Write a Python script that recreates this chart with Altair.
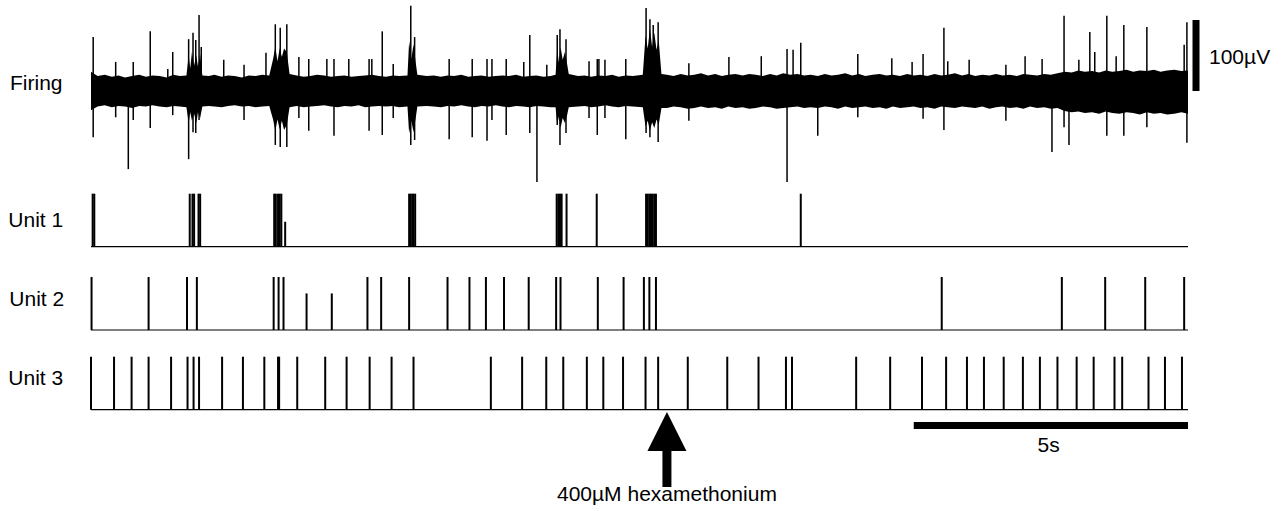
import altair as alt
import pandas as pd

# ---------------- data ----------------
# time axis in seconds (0..20 s)
# Firing trace: noise envelope (µV, upper / lower magnitude)
ENV_T = [0.00, 0.12, 0.25, 0.38, 0.50, 0.62, 0.75, 0.88, 1.00, 1.12, 1.25, 1.38, 1.50, 1.62,
         1.74, 1.78, 1.81, 1.84, 1.88, 1.92, 1.95, 1.99, 2.03,
         2.15, 2.25, 2.38, 2.50, 2.62, 2.75, 2.88, 3.00, 3.12, 3.25,
         3.32, 3.36, 3.40, 3.44, 3.48, 3.52, 3.57, 3.62,
         3.75, 3.88, 4.00, 4.12, 4.25, 4.38, 4.50, 4.62, 4.75, 4.88, 5.00, 5.12, 5.25,
         5.38, 5.50, 5.62, 5.77, 5.80, 5.84, 5.88, 5.92, 5.95,
         6.12, 6.25, 6.38, 6.50, 6.62, 6.75, 6.88, 7.00, 7.12, 7.25, 7.38, 7.50, 7.62,
         7.75, 7.88, 8.00, 8.12, 8.25, 8.38, 8.47,
         8.50, 8.53, 8.56, 8.60, 8.64, 8.68, 8.71,
         8.88, 9.00, 9.12, 9.25, 9.38, 9.50, 9.62, 9.75, 9.88, 10.06,
         10.11, 10.15, 10.19, 10.23, 10.27, 10.31, 10.35, 10.40,
         10.50, 10.62, 10.75, 10.88, 11.00, 11.12, 11.25, 11.38, 11.50, 11.62, 11.75,
         11.88, 12.00, 12.12, 12.25, 12.38, 12.50, 12.62, 12.75, 12.88, 13.00, 13.12,
         13.25, 13.38, 13.50, 13.62, 13.75, 13.88, 14.00, 14.12, 14.25, 14.38, 14.50,
         14.62, 14.75, 14.88, 15.00, 15.12, 15.25, 15.38, 15.50, 15.62, 15.75, 15.88,
         16.00, 16.12, 16.25, 16.38, 16.50, 16.62, 16.75, 16.88, 17.00, 17.12, 17.25,
         17.38, 17.50, 17.62, 17.75, 17.88, 18.00, 18.12, 18.25, 18.38, 18.50, 18.62,
         18.75, 18.88, 19.00, 19.12, 19.25, 19.38, 19.50, 19.62, 19.75, 19.88, 20.00]
ENV_UP = [27, 21, 23, 20, 22, 19, 21, 23, 20, 22, 21, 19, 23, 21,
          22, 50, 32, 55, 36, 50, 34, 52, 22,
          21, 23, 20, 22, 21, 19, 22, 21, 23, 22,
          45, 62, 42, 60, 48, 60, 55, 24,
          22, 20, 21, 23, 22, 20, 21, 22, 20, 21, 22, 23, 21,
          20, 22, 21, 22, 70, 45, 66, 40, 23,
          21, 22, 20, 22, 21, 23, 20, 21, 22, 20, 21, 22, 21,
          23, 20, 21, 22, 20, 21, 23,
          58, 40, 62, 44, 55, 38, 24,
          21, 22, 20, 22, 21, 23, 20, 22, 21, 23,
          78, 60, 88, 62, 82, 58, 72, 24,
          23, 21, 24, 22, 23, 25, 22, 24, 21, 23, 24,
          22, 24, 23, 21, 24, 22, 25, 23, 24, 22, 23,
          21, 24, 22, 23, 25, 22, 24, 21, 23, 24, 22,
          23, 21, 24, 22, 23, 21, 24, 22, 23, 25, 22,
          24, 21, 23, 22, 24, 22, 23, 21, 24, 23, 22,
          24, 23, 25, 27, 26, 29, 27, 28, 26, 29, 27,
          28, 30, 27, 29, 28, 30, 27, 29, 30, 28, 29]
ENV_DOWN = [27, 22, 20, 23, 21, 22, 24, 21, 22, 20, 22, 23, 21, 22,
            23, 45, 30, 42, 32, 45, 30, 38, 22,
            21, 22, 23, 21, 20, 22, 21, 23, 22, 21,
            40, 56, 40, 54, 42, 55, 48, 23,
            21, 23, 22, 21, 20, 22, 23, 21, 22, 20, 23, 22, 21,
            22, 21, 23, 22, 60, 42, 58, 38, 22,
            21, 22, 23, 21, 22, 20, 22, 23, 21, 22, 20, 22, 23,
            21, 22, 23, 21, 22, 23, 23,
            48, 36, 52, 38, 45, 34, 23,
            22, 21, 23, 22, 20, 22, 23, 21, 22, 23,
            50, 42, 56, 44, 52, 40, 48, 24,
            24, 22, 23, 25, 24, 22, 24, 23, 25, 22, 24,
            23, 25, 24, 22, 23, 25, 24, 23, 22, 24, 23,
            24, 22, 23, 25, 22, 24, 23, 22, 24, 23, 25,
            22, 24, 23, 22, 24, 23, 25, 22, 23, 24, 22,
            23, 24, 22, 25, 23, 22, 24, 23, 25, 22, 24,
            23, 25, 24, 28, 30, 29, 31, 30, 32, 29, 31,
            32, 30, 31, 33, 30, 32, 31, 33, 32, 30, 32]

# Firing trace: individual spikes (time s, upward µV, downward µV)
SPIKE_T = [0.04, 0.45, 0.68, 0.77, 1.08, 1.40, 1.49, 1.78, 1.86, 1.91, 1.97, 2.01, 2.42,
           2.79, 3.19, 3.36, 3.45, 3.57, 3.79, 3.97, 4.30, 4.43, 4.70, 5.07, 5.12, 5.31,
           5.51, 5.83, 5.90, 6.53, 6.95, 7.22, 7.31, 7.57, 7.89, 8.00, 8.13, 8.31, 8.50,
           8.55, 8.66, 9.08, 9.23, 9.26, 9.37, 9.75, 10.12, 10.19, 10.25, 10.34, 10.90,
           11.63, 12.22, 12.69, 12.80, 12.94, 13.25, 13.98, 14.60, 14.97, 15.17, 15.55,
           15.62, 16.01, 16.68, 17.03, 17.34, 17.52, 17.74, 17.83, 18.01, 18.21, 18.30,
           18.52, 18.69, 18.83, 19.25, 19.93, 19.98]
SPIKE_UP = [76, 41, 15, 41, 84, 31, 55, 73, 82, 72, 107, 62, 44,
            37, 54, 94, 89, 94, 48, 45, 45, 45, 45, 45, 45, 84,
            38, 120, 76, 45, 45, 45, 45, 45, 41, 79, 15, 37, 79,
            87, 73, 42, 45, 45, 44, 45, 117, 101, 93, 97, 39,
            48, 49, 59, 58, 68, 15, 52, 46, 41, 52, 89,
            42, 44, 37, 49, 45, 15, 106, 15, 44, 83, 55,
            106, 49, 93, 90, 65, 97]
SPIKE_DOWN = [65, 37, 110, 41, 52, 15, 34, 96, 58, 59, 41, 15, 15,
              41, 15, 76, 79, 79, 38, 56, 15, 63, 15, 56, 15, 62,
              38, 76, 69, 68, 65, 70, 41, 62, 15, 59, 128, 15, 48,
              76, 59, 38, 62, 15, 38, 68, 59, 65, 44, 72, 42,
              15, 15, 128, 15, 15, 63, 37, 15, 15, 39, 55,
              15, 15, 42, 15, 15, 86, 51, 76, 15, 15, 15,
              63, 15, 63, 51, 15, 73]

# Unit rasters: spike times (s) and relative bar heights
UNIT1_T = [0.03, 0.06, 1.80, 1.85, 1.88, 1.96, 1.99, 3.34, 3.37, 3.41, 3.44, 3.47, 3.54,
           5.80, 5.83, 5.86, 5.88, 5.91, 8.49, 8.52, 8.55, 8.58, 8.67, 9.22,
           10.12, 10.15, 10.18, 10.21, 10.24, 10.27, 10.30, 12.94]
UNIT1_H = [1, 1, 1, 1, 1, 1, 1, 1, 1, 1, 1, 1, 0.47,
           1, 1, 1, 1, 1, 1, 1, 1, 1, 1, 1,
           1, 1, 1, 1, 1, 1, 1, 1]
UNIT2_T = [0.01, 1.05, 1.75, 1.93, 3.33, 3.42, 3.51, 3.93, 4.39, 5.04, 5.29, 5.80,
           6.50, 6.90, 7.20, 7.53, 7.98, 8.48, 8.56, 9.24, 9.71, 10.08, 10.18, 10.30,
           15.51, 17.70, 18.49, 19.22, 19.93]
UNIT2_H = [1, 1, 1, 1, 1, 1, 1, 0.69, 0.69, 1, 1, 1,
           1, 1, 1, 1, 1, 1, 1, 1, 1, 1, 1, 1,
           1, 1, 1, 1, 1]
UNIT3_T = [0.00, 0.42, 0.74, 1.05, 1.46, 1.76, 1.87, 1.97, 2.39, 2.77, 3.16, 3.41, 3.43,
           3.76, 4.27, 4.66, 5.08, 5.48, 5.88, 7.29, 7.86, 8.30, 8.61, 9.04, 9.34, 9.70,
           10.11, 10.34, 10.88, 11.60, 12.17, 12.67, 12.78, 13.95, 14.57, 15.15, 15.59,
           15.97, 16.28, 16.64, 16.99, 17.30, 17.62, 17.97, 18.28, 18.66, 18.80, 19.28,
           19.58, 19.89]

ROW_LABELS = ["Firing", "Unit 1", "Unit 2", "Unit 3"]
VOLT_BAR_UV = [0, 100]
VOLT_BAR_TEXT = "100µV"
TIME_BAR_S = [15, 20]
TIME_BAR_TEXT = "5s"
DRUG_T = 10.5
DRUG_TEXT = "400µM hexamethonium"

# ---------------- layout constants ----------------
W, H = 1097, 511
PAD_L, PAD_R = 91, 99
FONT = "Liberation Sans"
FS = 21
XSC = alt.Scale(domain=[0, 20], nice=False, zero=False)

# firing track: 0 µV at 91 px from top, 0.71 px per µV
FIRE_ZERO_PX, PX_PER_UV = 91.0, 0.71
FIRE_DOM = [(FIRE_ZERO_PX - H) / PX_PER_UV, FIRE_ZERO_PX / PX_PER_UV]
# unit tracks: baseline px, bar height px
UNIT_BASE = [246.7, 330.0, 409.7]
UNIT_HPX = 53.0


def unit_dom(b):
    return [(b - H) / UNIT_HPX, b / UNIT_HPX]


def X(field="t"):
    return alt.X(f"{field}:Q", scale=XSC, axis=None)


# ---------------- firing track ----------------
env_df = pd.DataFrame({"t": ENV_T, "up": ENV_UP, "down": ENV_DOWN})
spk_df = pd.DataFrame({"t": SPIKE_T, "up": SPIKE_UP, "down": SPIKE_DOWN})
fy = alt.Scale(domain=FIRE_DOM, nice=False, zero=False)

band = alt.Chart(env_df).transform_calculate(lo="-datum.down").mark_area(
    color="black", interpolate="linear", opacity=1
).encode(x=X(), y=alt.Y("up:Q", scale=fy, axis=None), y2="lo:Q")

spikes = alt.Chart(spk_df).transform_calculate(lo="-datum.down").mark_rule(
    color="black", strokeWidth=1.5
).encode(x=X(), y=alt.Y("up:Q", scale=fy, axis=None), y2="lo:Q")

vbar = alt.Chart(pd.DataFrame({"t": [20.146], "a": [VOLT_BAR_UV[0]], "b": [VOLT_BAR_UV[1]]})).mark_rule(
    color="black", strokeWidth=7
).encode(x=X(), y=alt.Y("b:Q", scale=fy, axis=None), y2="a:Q")

vtext = alt.Chart(pd.DataFrame({"t": [20.383], "v": [37.6], "s": [VOLT_BAR_TEXT]})).mark_text(
    align="left", baseline="alphabetic", font=FONT, fontSize=FS, color="black"
).encode(x=X(), y=alt.Y("v:Q", scale=fy, axis=None), text="s:N")

flabel = alt.Chart(pd.DataFrame({"t": [-1.477], "v": [1.4], "s": [ROW_LABELS[0]]})).mark_text(
    align="left", baseline="alphabetic", font=FONT, fontSize=FS, color="black"
).encode(x=X(), y=alt.Y("v:Q", scale=fy, axis=None), text="s:N")

firing = alt.layer(band, spikes, vbar, vtext, flabel)


# ---------------- unit tracks ----------------
def unit_track(times, heights, base_px, label, label_v, label_t):
    ys = alt.Scale(domain=unit_dom(base_px), nice=False, zero=False)
    df = pd.DataFrame({"t": times, "h": heights, "z": [0] * len(times)})
    bars = alt.Chart(df).mark_rule(color="black", strokeWidth=2).encode(
        x=X(), y=alt.Y("h:Q", scale=ys, axis=None), y2="z:Q"
    )
    base = alt.Chart(pd.DataFrame({"t": [0], "t2": [20], "z": [0]})).mark_rule(
        color="black", strokeWidth=1.2
    ).encode(x=X(), x2="t2:Q", y=alt.Y("z:Q", scale=ys, axis=None))
    lab = alt.Chart(pd.DataFrame({"t": [label_t], "v": [label_v], "s": [label]})).mark_text(
        align="left", baseline="alphabetic", font=FONT, fontSize=FS, color="black"
    ).encode(x=X(), y=alt.Y("v:Q", scale=ys, axis=None), text="s:N")
    return alt.layer(base, bars, lab)


u1 = unit_track(UNIT1_T, UNIT1_H, UNIT_BASE[0], ROW_LABELS[1], 0.377, -1.507)
u2 = unit_track(UNIT2_T, UNIT2_H, UNIT_BASE[1], ROW_LABELS[2], 0.45, -1.489)
u3 = unit_track(UNIT3_T, [1] * len(UNIT3_T), UNIT_BASE[2], ROW_LABELS[3], 0.47, -1.507)

# ---------------- annotations ----------------
tbar = alt.Chart(pd.DataFrame({"t": [TIME_BAR_S[0]], "t2": [TIME_BAR_S[1]]})).mark_rule(
    color="black", strokeWidth=7
).encode(x=X(), x2="t2:Q", y=alt.value(425.5))

ttext = alt.Chart(pd.DataFrame({"t": [(TIME_BAR_S[0] + TIME_BAR_S[1]) / 2 - 0.04], "s": [TIME_BAR_TEXT]})).mark_text(
    align="center", baseline="alphabetic", font=FONT, fontSize=FS, color="black"
).encode(x=X(), y=alt.value(452), text="s:N")

head = alt.Chart(pd.DataFrame({"t": [DRUG_T]})).mark_point(
    shape="M0,-1L1,1L-1,1Z", filled=True, size=1521, color="black", opacity=1, strokeWidth=0
).encode(x=X(), y=alt.value(431.5))

shaft = alt.Chart(pd.DataFrame({"t": [DRUG_T]})).mark_rule(color="black", strokeWidth=9).encode(
    x=X(), y=alt.value(450), y2=alt.value(487)
)

dtext = alt.Chart(pd.DataFrame({"t": [DRUG_T], "s": [DRUG_TEXT]})).mark_text(
    align="center", baseline="alphabetic", font=FONT, fontSize=FS, color="black"
).encode(x=X(), y=alt.value(501), text="s:N")

annot = alt.layer(tbar, ttext, head, shaft, dtext)

chart = alt.layer(firing, u1, u2, u3, annot).resolve_scale(y="independent").properties(
    width=W, height=H,
    padding={"left": PAD_L, "right": PAD_R, "top": 0, "bottom": 0},
    autosize=alt.AutoSizeParams(type="none"),
    background="white",
).configure_view(stroke=None)

chart.save("out.html", embed_options={"renderer": "svg", "actions": False})
